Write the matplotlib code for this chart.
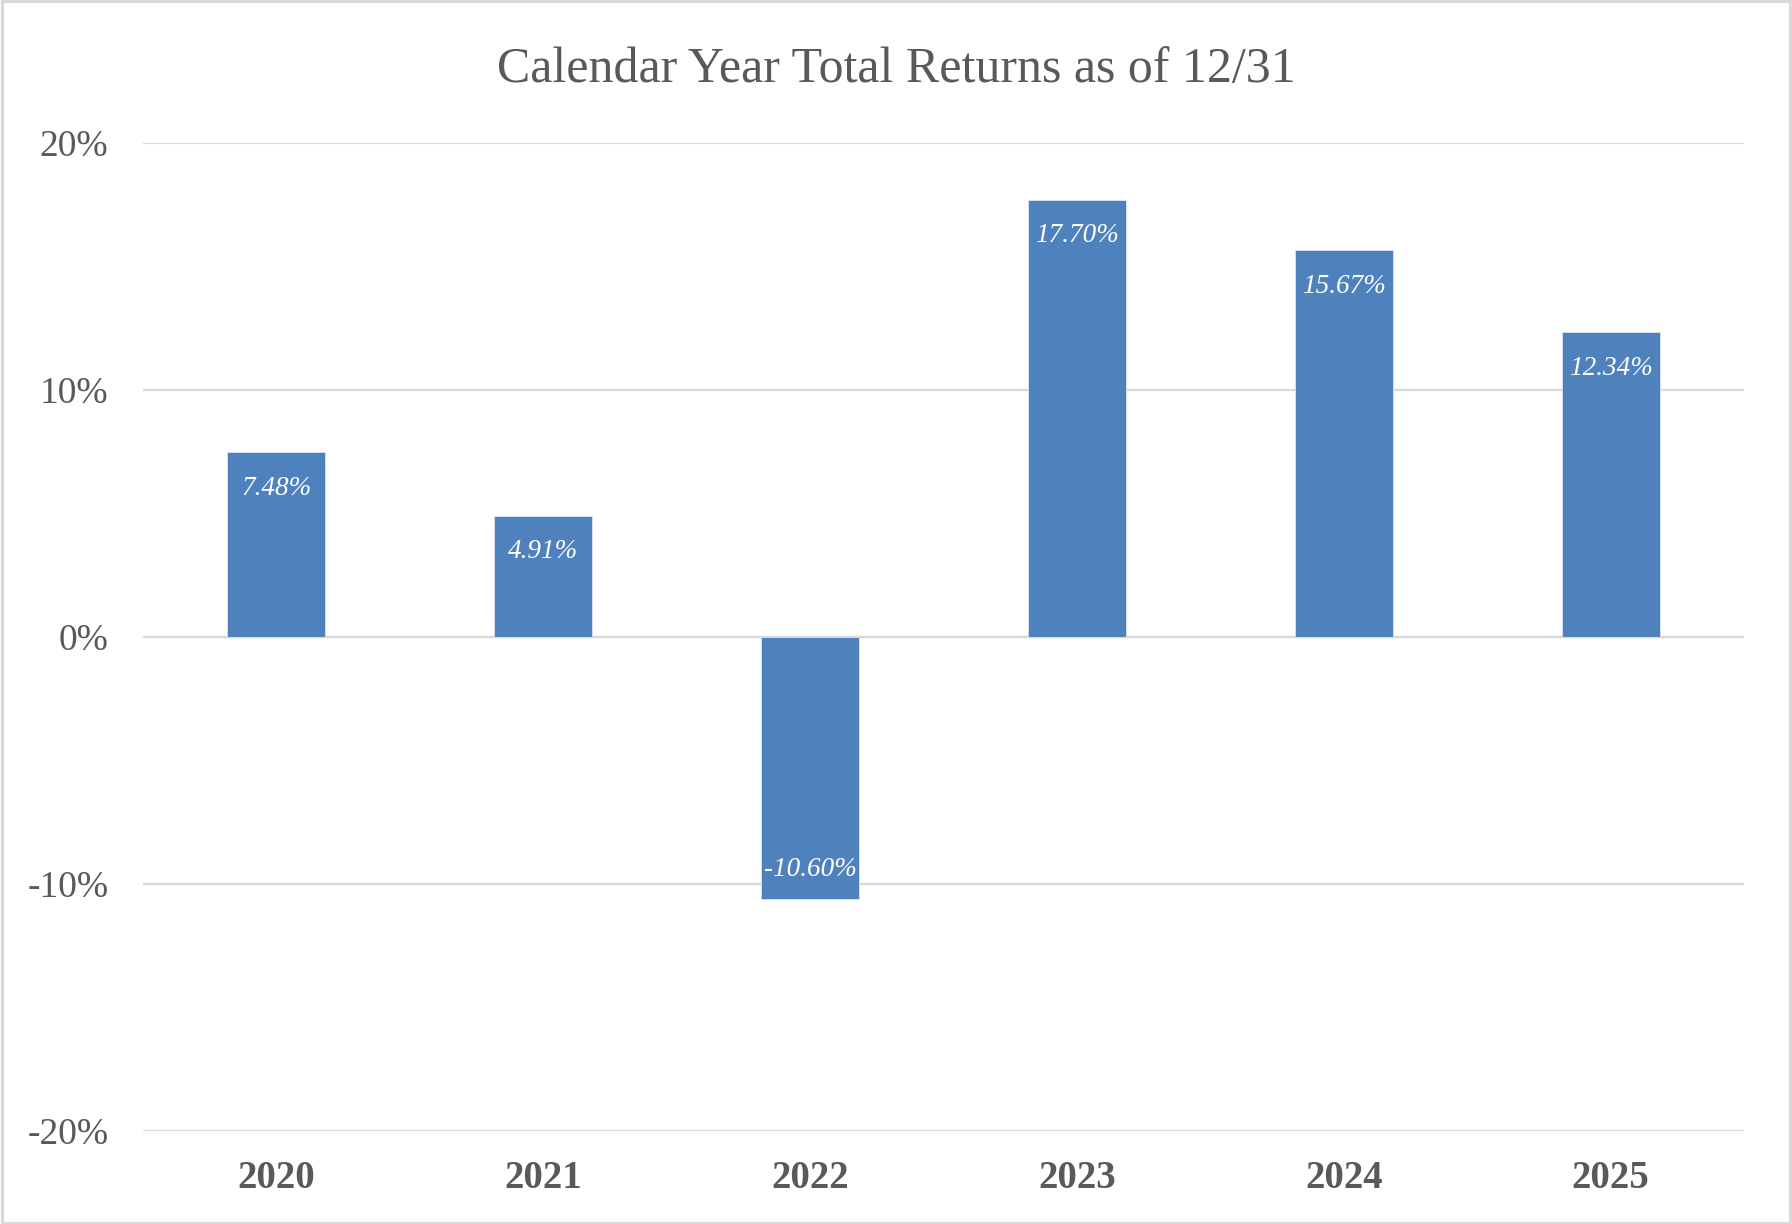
import matplotlib
matplotlib.use("Agg")
import matplotlib.pyplot as plt
from matplotlib.patches import Rectangle

years = ["2020", "2021", "2022", "2023", "2024", "2025"]
returns = [7.48, 4.91, -10.60, 17.70, 15.67, 12.34]
yticks = [-20, -10, 0, 10, 20]

plt.rcParams['font.family'] = ['Liberation Serif', 'DejaVu Serif']
text_color = '#595959'
grid_color = '#D9D9D9'
bar_color = '#4F81BD'

fig = plt.figure(figsize=(17.92, 12.24), dpi=100)
ax = fig.add_axes([0.0798, 0.076, 0.8934, 0.8072])

x = range(len(years))
bars = ax.bar(x, returns, width=0.367, color=bar_color, edgecolor='#DCE6F2',
              linewidth=0.6, zorder=3)

ax.set_xlim(-0.5, len(years) - 0.5)
ax.set_ylim(-20, 20)
ax.set_yticks(yticks)
ax.set_yticklabels([f"{t}%" for t in yticks])
ax.set_xticks(list(x))
ax.set_xticklabels(years, fontweight='bold')

ax.grid(axis='y', color=grid_color, linewidth=1.6, zorder=0)
ax.axhline(0, color=grid_color, linewidth=1.6, zorder=1)
for s in ax.spines.values():
    s.set_visible(False)
ax.tick_params(axis='both', length=0, labelsize=28, labelcolor=text_color)
ax.tick_params(axis='y', pad=25, labelsize=27)
ax.tick_params(axis='x', pad=21)

# value labels inside bar ends
for b, v in zip(bars, returns):
    off = -26 if v >= 0 else 21
    ax.annotate(f"{v:.2f}%", (b.get_x() + b.get_width() / 2, v),
                xytext=(0, off), textcoords='offset points',
                ha='center', va='center', color='white', fontsize=19.5,
                fontstyle='italic', zorder=4)

fig.text(0.5, 0.943, "Calendar Year Total Returns as of 12/31", ha='center',
         va='center', fontsize=36, color=text_color)

# chart border
fig.patches.append(Rectangle((0.001, 0.001), 0.998, 0.998, transform=fig.transFigure,
                             fill=False, edgecolor=grid_color, linewidth=2.2))

fig.savefig("out.png", dpi=100, facecolor='white')
